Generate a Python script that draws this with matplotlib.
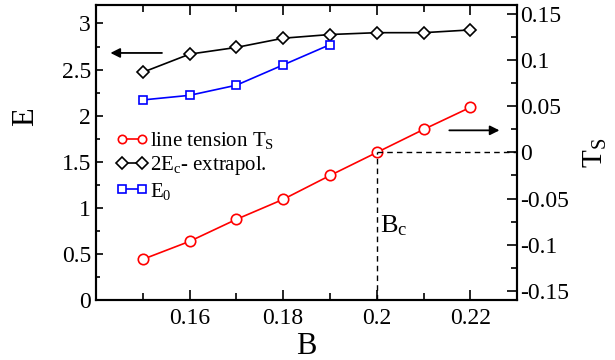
import matplotlib
matplotlib.use('Agg')
import matplotlib.pyplot as plt
from matplotlib.ticker import MultipleLocator
import numpy as np

plt.rcParams['font.family'] = ['Liberation Serif', 'DejaVu Serif']
plt.rcParams['mathtext.fontset'] = 'custom'
plt.rcParams['mathtext.rm'] = 'Liberation Serif'
plt.rcParams['mathtext.it'] = 'Liberation Serif:italic'

# data
B_ts = [0.15, 0.16, 0.17, 0.18, 0.19, 0.20, 0.21, 0.22]
T_s = [-0.116, -0.0965, -0.0726, -0.0509, -0.025, 0.0, 0.025, 0.049]
B_ec = [0.15, 0.16, 0.17, 0.18, 0.19, 0.20, 0.21, 0.22]
E_c2 = [2.47, 2.667, 2.74, 2.84, 2.88, 2.90, 2.90, 2.93]
B_e0 = [0.15, 0.16, 0.17, 0.18, 0.19]
E_0 = [2.17, 2.22, 2.33, 2.55, 2.77]
B_c = 0.2

fig = plt.figure(figsize=(6.15, 3.6), dpi=100)
ax = fig.add_axes([0.156, 0.167, 0.685, 0.819])
ax2 = ax.twinx()

l2, = ax.plot(B_ec, E_c2, '-D', color='k', mfc='white', ms=6, mew=1.2, lw=1.2,
              label=r'2E$_\mathrm{c}$- extrapol.')
l3, = ax.plot(B_e0, E_0, '-s', color='#0000ff', mfc='white', ms=6, mew=1.2, lw=1.2,
              label=r'E$_\mathrm{0}$')
l1, = ax2.plot(B_ts, T_s, '-o', color='#ff0000', mfc='white', ms=7.5, mew=1.2, lw=1.2,
               label=r'line tension T$_\mathrm{S}$')

# B_c dashed guides
ax2.plot([B_c, 0.23], [0, 0], '--', color='k', lw=1.0, dashes=(4, 3))
ax2.plot([B_c, B_c], [-0.16, 0], '--', color='k', lw=1.0, dashes=(4, 3))
ax2.text(B_c + 0.0006, -0.08, r'B$_\mathrm{c}$', fontsize=19, va='center', ha='left')

ax.set_xlim(0.14, 0.23)
ax.set_ylim(0, 3.2)
ax2.set_ylim(-0.16, 0.16)

ax.xaxis.set_major_locator(MultipleLocator(0.02))
ax.xaxis.set_minor_locator(MultipleLocator(0.01))
ax.yaxis.set_major_locator(MultipleLocator(0.5))
ax.yaxis.set_minor_locator(MultipleLocator(0.25))
ax2.yaxis.set_major_locator(MultipleLocator(0.05))
ax2.yaxis.set_minor_locator(MultipleLocator(0.025))

ax.set_xticks([0.16, 0.18, 0.2, 0.22])
ax.set_xticklabels(['0.16', '0.18', '0.2', '0.22'])
ax.set_yticks([0, 0.5, 1, 1.5, 2, 2.5, 3])
ax.set_yticklabels(['0', '0.5', '1', '1.5', '2', '2.5', '3'])
ax2.set_yticks([-0.15, -0.1, -0.05, 0, 0.05, 0.1, 0.15])
ax2.set_yticklabels(['-0.15', '-0.1', '-0.05', '0', '0.05', '0.1', '0.15'])

ax.tick_params(axis='x', which='both', direction='in', top=True, labelsize=17, pad=6)
ax.tick_params(axis='x', which='major', length=7, width=1.2)
ax.tick_params(axis='x', which='minor', length=5, width=1.2)
ax.tick_params(axis='y', which='major', direction='in', length=5, width=1.2, labelsize=17)
ax.tick_params(axis='y', which='minor', direction='in', length=3, width=1.2)
ax2.tick_params(axis='y', which='major', direction='in', length=7, width=1.2, labelsize=17, pad=2)
ax2.tick_params(axis='y', which='minor', direction='in', length=4, width=1.2)

for a in (ax, ax2):
    for s in a.spines.values():
        s.set_linewidth(1.5)

ax.set_xlabel('B', fontsize=22, labelpad=2)
ax.set_ylabel('E', fontsize=22)
ax.yaxis.set_label_coords(-0.133, 0.62)
ax2.set_ylabel(r'T$_\mathrm{S}$', fontsize=21, labelpad=9)

# arrows pointing to the relevant axes
ax.annotate('', xy=(0.1425, 2.68), xytext=(0.1547, 2.68),
            arrowprops=dict(arrowstyle='-|>', color='k', lw=1.3, mutation_scale=14))
ax.annotate('', xy=(0.2268, 1.84), xytext=(0.2149, 1.84),
            arrowprops=dict(arrowstyle='-|>', color='k', lw=1.3, mutation_scale=14))

leg = ax.legend(handles=[l1, l2, l3], loc='upper left', bbox_to_anchor=(0.047, 0.575),
                frameon=False, fontsize=15, numpoints=2, handlelength=1.55,
                handletextpad=0.1, labelspacing=0.15, borderpad=0, borderaxespad=0)
for h in leg.legend_handles:
    h.set_markersize(6)

fig.savefig('out.png', dpi=100)
